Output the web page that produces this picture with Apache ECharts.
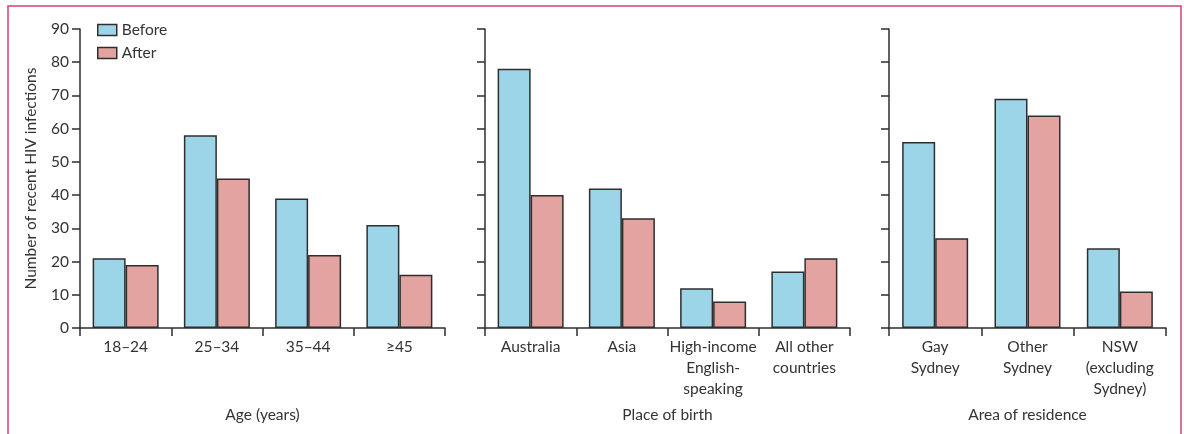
<!DOCTYPE html>
<html>
<head>
<meta charset="utf-8">
<script src="https://cdn.jsdelivr.net/npm/echarts@6/dist/echarts.min.js"></script>
<style>
  html, body { margin: 0; padding: 0; background: #fff; }
  #chart { width: 1184px; height: 434px; }
</style>
</head>
<body>
<div id="chart"></div>
<script>
// Recent HIV infections before and after, split by three groupings
const seriesNames = ['Before', 'After'];

const ageCategories = ['18–24', '25–34', '35–44', '≥45'];
const ageBefore = [21, 58, 39, 31];
const ageAfter = [19, 45, 22, 16];

const birthCategories = ['Australia', 'Asia', 'High-income\nEnglish-\nspeaking', 'All other\ncountries'];
const birthBefore = [78, 42, 12, 17];
const birthAfter = [40, 33, 8, 21];

const residenceCategories = ['Gay\nSydney', 'Other\nSydney', 'NSW\n(excluding\nSydney)'];
const residenceBefore = [56, 69, 24];
const residenceAfter = [27, 64, 11];

const panelTitles = ['Age (years)', 'Place of birth', 'Area of residence'];
const yTicks = { min: 0, max: 90, step: 10 };
const yTitle = 'Number of recent HIV infections';

const FONT = 'Lato, "Open Sans", sans-serif';
const FS = 15.5;
const INK = '#333';
const LINE = '#2e2e2e';
const COLORS = ['#9dd5e8', '#e2a3a1'];

const panels = [
  { cats: ageCategories, before: ageBefore, after: ageAfter, left: 80, width: 365 },
  { cats: birthCategories, before: birthBefore, after: birthAfter, left: 485, width: 365 },
  { cats: residenceCategories, before: residenceBefore, after: residenceAfter, left: 889, width: 277 }
];

const grid = [], xAxis = [], yAxis = [], series = [];
panels.forEach((p, i) => {
  grid.push({ left: p.left, width: p.width, top: 29, height: 299, containLabel: false });
  xAxis.push({
    type: 'category',
    gridIndex: i,
    data: p.cats,
    name: panelTitles[i],
    nameLocation: 'middle',
    nameGap: 79,
    nameTextStyle: { fontFamily: FONT, fontSize: FS, color: INK },
    axisLine: { lineStyle: { color: LINE, width: 1.5 } },
    axisTick: { show: true, length: 8, lineStyle: { color: LINE, width: 1.5 } },
    axisLabel: { fontFamily: FONT, fontSize: FS, color: INK, lineHeight: 21, margin: 8, interval: 0 },
    splitLine: { show: false }
  });
  yAxis.push({
    type: 'value',
    gridIndex: i,
    min: yTicks.min,
    max: yTicks.max,
    interval: yTicks.step,
    name: i === 0 ? yTitle : '',
    nameLocation: 'middle',
    nameGap: 41,
    nameTextStyle: { fontFamily: FONT, fontSize: FS, color: INK },
    axisLine: { show: true, lineStyle: { color: LINE, width: 1.5 } },
    axisTick: { show: true, length: 8, lineStyle: { color: LINE, width: 1.5 } },
    axisLabel: { show: i === 0, fontFamily: FONT, fontSize: FS, color: INK, margin: 11 },
    splitLine: { show: false }
  });
  [p.before, p.after].forEach((vals, k) => {
    series.push({
      type: 'bar',
      name: seriesNames[k],
      xAxisIndex: i,
      yAxisIndex: i,
      data: vals,
      barWidth: 33,
      barGap: '0%',
      itemStyle: { color: COLORS[k], borderColor: LINE, borderWidth: 1.5 },
      emphasis: { disabled: true },
      animation: false
    });
  });
});

const chart = echarts.init(document.getElementById('chart'), null, { renderer: 'canvas' });
chart.setOption({
  backgroundColor: '#fff',
  animation: false,
  legend: {
    data: seriesNames,
    orient: 'vertical',
    left: 97,
    top: 22,
    padding: 0,
    itemWidth: 19,
    itemHeight: 11,
    itemGap: 7,
    icon: 'rect',
    textStyle: { fontFamily: FONT, fontSize: FS, color: INK, lineHeight: 14 },
    itemStyle: { borderColor: LINE, borderWidth: 1.5 }
  },
  grid, xAxis, yAxis, series,
  graphic: [{
    type: 'polyline',
    silent: true,
    shape: { points: [[8, 440], [8, 6], [1181, 6], [1181, 440]] },
    style: { stroke: '#d6406f', lineWidth: 1.5, fill: null }
  }]
});
</script>
</body>
</html>
